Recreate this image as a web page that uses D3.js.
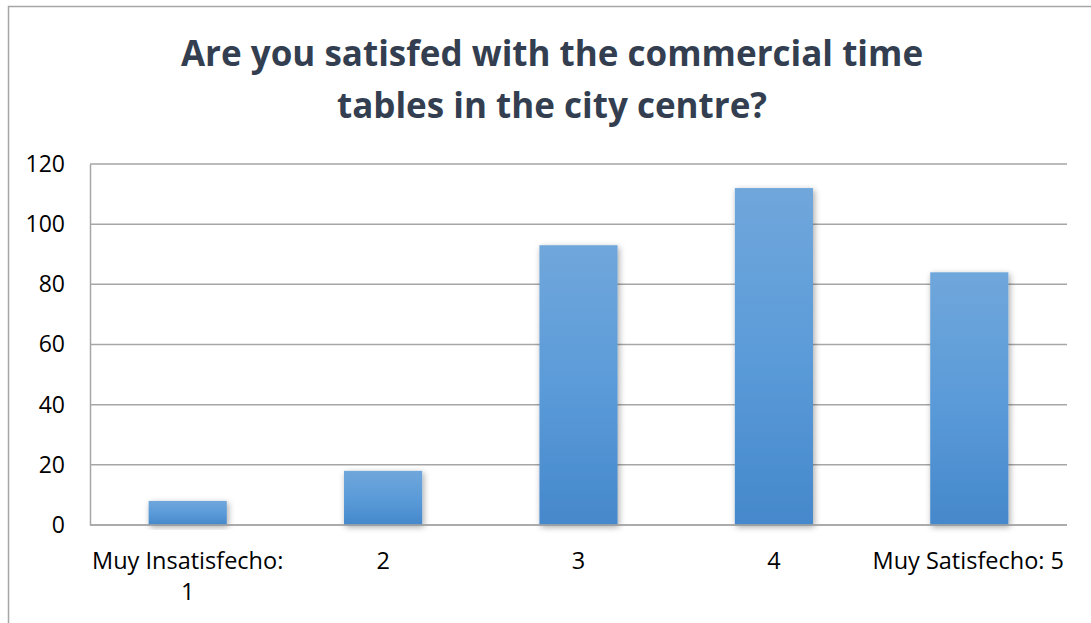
<!DOCTYPE html>
<html>
<head>
<meta charset="utf-8">
<script src="https://cdn.jsdelivr.net/npm/d3@7"></script>
<style>
  html, body { margin: 0; padding: 0; background: #fff; }
  svg { display: block; }
</style>
</head>
<body>
<svg id="chart" width="1091" height="623"></svg>
<script>
// Survey answers: satisfaction with commercial opening hours
const categories = ["Muy Insatisfecho: 1", "2", "3", "4", "Muy Satisfecho: 5"];
const counts = [8, 18, 93, 112, 84];
const yTicks = [0, 20, 40, 60, 80, 100, 120];
const titleLines = ["Are you satisfed with the commercial time", "tables in the city centre?"];

const W = 1091, H = 623;
const plot = { left: 90, top: 164, right: 1067, bottom: 525 };
const font = "'Open Sans', Lato, sans-serif";

const svg = d3.select("#chart");

// drop shadow + vertical gradient for the bars
const defs = svg.append("defs");
const grad = defs.append("linearGradient")
  .attr("id", "barFill").attr("x1", 0).attr("y1", 0).attr("x2", 0).attr("y2", 1);
grad.append("stop").attr("offset", "0%").attr("stop-color", "#70a7db");
grad.append("stop").attr("offset", "50%").attr("stop-color", "#5b9bd9");
grad.append("stop").attr("offset", "100%").attr("stop-color", "#4588cb");

const shadow = defs.append("filter").attr("id", "barShadow")
  .attr("x", "-20%").attr("y", "-20%").attr("width", "140%").attr("height", "140%");
shadow.append("feDropShadow")
  .attr("dx", 1.5).attr("dy", 2).attr("stdDeviation", 3)
  .attr("flood-color", "#000").attr("flood-opacity", 0.35);

// outer chart frame (runs off the right and bottom edges)
svg.append("path")
  .attr("d", `M8.5,${H + 2} V6.5 H${W + 2}`)
  .attr("fill", "none").attr("stroke", "#a6a6a6").attr("stroke-width", 1.5);

// title
const title = svg.append("text")
  .attr("text-anchor", "middle")
  .attr("font-family", font).attr("font-weight", 700)
  .attr("font-size", 35).attr("fill", "#333f50");
titleLines.forEach((t, i) => {
  title.append("tspan").attr("x", 552).attr("y", 66 + i * 52).text(t);
});

const x = d3.scaleBand()
  .domain(categories)
  .range([plot.left, plot.right])
  .paddingInner(0.6).paddingOuter(0.3);

const y = d3.scaleLinear().domain([0, 120]).range([plot.bottom, plot.top]);

// gridlines
svg.append("g")
  .selectAll("line").data(yTicks).join("line")
  .attr("x1", plot.left).attr("x2", plot.right)
  .attr("y1", d => y(d)).attr("y2", d => y(d))
  .attr("stroke", "#a6a6a6").attr("stroke-width", 1.5);

// y axis
const yAxis = svg.append("g")
  .attr("transform", `translate(${plot.left},0)`)
  .call(d3.axisLeft(y).tickValues(yTicks).tickSize(0).tickPadding(25));
yAxis.select(".domain").attr("stroke", "#a6a6a6").attr("stroke-width", 1.5);
yAxis.selectAll("text")
  .attr("font-family", font).attr("font-size", 23).attr("fill", "#000");

// bars
svg.append("g")
  .selectAll("rect").data(counts).join("rect")
  .attr("x", (d, i) => x(categories[i]))
  .attr("width", x.bandwidth())
  .attr("y", d => y(d))
  .attr("height", d => y(0) - y(d))
  .attr("fill", "url(#barFill)")
  .attr("filter", "url(#barShadow)");

// baseline drawn over the bars
svg.append("line")
  .attr("x1", plot.left).attr("x2", plot.right)
  .attr("y1", y(0)).attr("y2", y(0))
  .attr("stroke", "#a6a6a6").attr("stroke-width", 1.5);

// category labels
const labels = svg.append("g")
  .attr("font-family", font).attr("font-size", 23.5).attr("fill", "#000")
  .attr("text-anchor", "middle");
const cx = c => x(c) + x.bandwidth() / 2;

// first label wraps onto two lines
const first = labels.append("text");
first.append("tspan").attr("x", cx(categories[0])).attr("y", 569).text("Muy Insatisfecho:");
first.append("tspan").attr("x", cx(categories[0])).attr("y", 600).text("1");

categories.slice(1).forEach(c => {
  const t = labels.append("text").attr("x", cx(c)).attr("y", 569).text(c);
  const b = t.node().getBBox();
  const maxRight = W - 27;
  if (b.x + b.width > maxRight) t.attr("x", cx(c) - (b.x + b.width - maxRight));
});
</script>
</body>
</html>
